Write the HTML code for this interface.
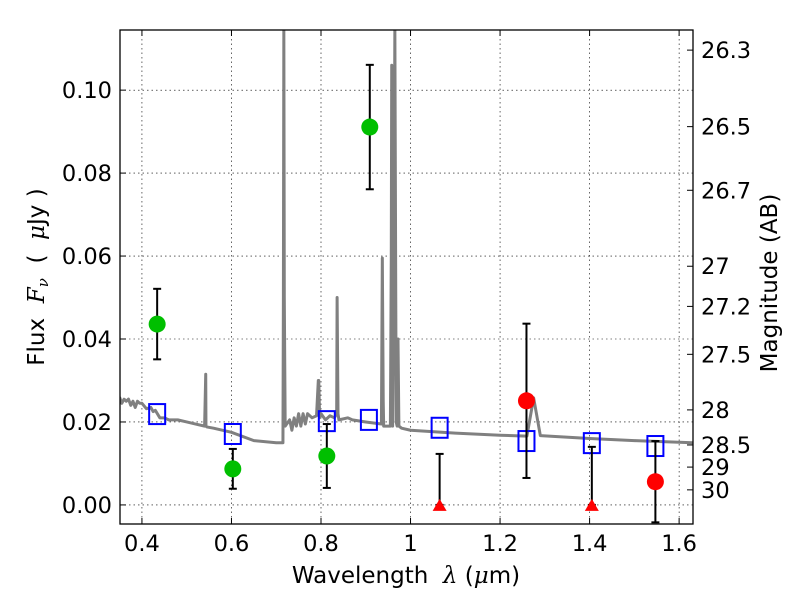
<!DOCTYPE html>
<html><head><meta charset="utf-8"><style>
body{margin:0;background:#fff}
svg{display:block;font-family:"DejaVu Sans","Liberation Sans",sans-serif}
</style></head><body>
<svg id="chart" width="800" height="600" viewBox="0 0 800 600" xmlns="http://www.w3.org/2000/svg">
<g id="grid"></g>
<g id="spec"></g>
<g id="marks"></g>
<rect x="120" y="30" width="573" height="494" fill="none" stroke="#000" stroke-width="1.3"/>
<g id="axes" font-size="22.5"></g>
<text x="406" y="583" font-size="23" text-anchor="middle" xml:space="preserve">Wavelength  <tspan font-style="italic" font-family="DejaVu Serif,serif">λ</tspan> (<tspan font-style="italic" font-family="DejaVu Serif,serif">μ</tspan>m)</text>
<text transform="translate(44,277) rotate(-90)" font-size="23" text-anchor="middle" xml:space="preserve">Flux  <tspan font-style="italic" font-family="DejaVu Serif,serif">F</tspan><tspan font-style="italic" font-family="DejaVu Serif,serif" font-size="15" dy="4">ν</tspan><tspan dy="-4">  (  </tspan><tspan font-style="italic" font-family="DejaVu Serif,serif">μ</tspan>Jy )</text>
<text transform="translate(777,283) rotate(-90)" font-size="23" text-anchor="middle">Magnitude (AB)</text>
</svg>
<script>
const xTicks=[0.4,0.6,0.8,1.0,1.2,1.4,1.6];
const xTickLabels=["0.4","0.6","0.8","1","1.2","1.4","1.6"];
const yTicks=[0,0.02,0.04,0.06,0.08,0.10];
const yTickLabels=["0.00","0.02","0.04","0.06","0.08","0.10"];
const magTicks=[26.3,26.5,26.7,27,27.2,27.5,28,28.5,29,30];
const specWave=[0.35,0.355,0.36,0.365,0.37,0.375,0.38,0.385,0.39,0.395,0.40,0.41,0.42,0.425,0.43,0.44,0.45,0.46,0.48,0.5,0.52,0.54,0.5425,0.543,0.545,0.56,0.6,0.65,0.70,0.715,0.716,0.717,0.718,0.72,0.73,0.735,0.74,0.745,0.75,0.755,0.76,0.765,0.77,0.78,0.79,0.794,0.795,0.797,0.80,0.81,0.82,0.83,0.835,0.836,0.838,0.84,0.86,0.87,0.9,0.935,0.936,0.937,0.939,0.94,0.955,0.957,0.958,0.959,0.96,0.963,0.965,0.967,0.968,0.970,0.972,0.974,0.98,1.0,1.1,1.2,1.26,1.275,1.29,1.4,1.5,1.63];
const specFlux=[0.026,0.0245,0.0255,0.025,0.0255,0.024,0.025,0.0235,0.025,0.0245,0.0245,0.0232,0.0235,0.0225,0.0228,0.021,0.021,0.0205,0.0205,0.020,0.0195,0.019,0.0315,0.019,0.0188,0.0185,0.0175,0.0155,0.015,0.015,0.05,0.115,0.05,0.019,0.0205,0.018,0.021,0.019,0.022,0.019,0.022,0.0195,0.022,0.021,0.0215,0.03,0.03,0.021,0.022,0.0205,0.0215,0.021,0.022,0.050,0.022,0.0205,0.021,0.0205,0.020,0.0195,0.04,0.0595,0.025,0.019,0.019,0.06,0.106,0.04,0.019,0.06,0.115,0.05,0.02,0.019,0.04,0.019,0.0185,0.018,0.0173,0.0168,0.0166,0.0258,0.0167,0.016,0.0155,0.015];
const detWave=[0.434,0.603,0.813,0.909];
const detFlux=[0.0436,0.0087,0.0118,0.0911];
const detErr=[0.0085,0.0048,0.0077,0.0150];
const redWave=[1.259,1.547];
const redFlux=[0.0251,0.0056];
const redErr=[0.0186,0.0098];
const limWave=[1.065,1.405];
const limFlux=[0,0];
const limErr=[0.0123,0.0140];
const modWave=[0.434,0.603,0.813,0.907,1.065,1.259,1.405,1.547];
const modFlux=[0.0219,0.0171,0.0202,0.0205,0.0186,0.0154,0.0149,0.0142];

const X0=120,X1=693,Y0=524,Y1=30,xmin=0.351,xmax=1.631,ymin=-0.0046,ymax=0.1145;
const sx=v=>X0+(v-xmin)/(xmax-xmin)*(X1-X0);
const sy=v=>Y0-(v-ymin)/(ymax-ymin)*(Y0-Y1);
const NS="http://www.w3.org/2000/svg";
function mk(tag,at,parent){const e=document.createElementNS(NS,tag);for(const k in at)e.setAttribute(k,at[k]);parent.appendChild(e);return e;}
const grid=document.getElementById('grid'),axes=document.getElementById('axes'),spec=document.getElementById('spec'),marks=document.getElementById('marks');
xTicks.forEach((t,i)=>{const x=sx(t);
 let g=mk('line',{x1:x,x2:x,y1:Y1,y2:Y0,stroke:'#000','stroke-width':0.6,'stroke-dasharray':'1.5,3'},grid);
 
 mk('line',{x1:x,x2:x,y1:Y0,y2:Y0-6,stroke:'#000'},axes);mk('line',{x1:x,x2:x,y1:Y1,y2:Y1+6,stroke:'#000'},axes);
 let l=mk('text',{x:x,y:Y0+27,'text-anchor':'middle'},axes);l.textContent=xTickLabels[i];
 });
yTicks.forEach((t,i)=>{const y=sy(t);
 let g=mk('line',{x1:X0,x2:X1,y1:y,y2:y,stroke:'#000','stroke-width':0.6,'stroke-dasharray':'1.5,3'},grid);
 
 mk('line',{x1:X0,x2:X0+6,y1:y,y2:y,stroke:'#000'},axes);
 let l=mk('text',{x:X0-8,y:y+8,'text-anchor':'end'},axes);l.textContent=yTickLabels[i];
 });
magTicks.forEach(m=>{const y=sy(Math.pow(10,(23.9-m)/2.5));
 mk('line',{x1:X1,x2:X1-6,y1:y,y2:y,stroke:'#000'},axes);
 let l=mk('text',{x:X1+8,y:y+8},axes);l.textContent=String(m);
 });
const cp=mk('clipPath',{id:'pc'},document.getElementById('chart'));mk('rect',{x:X0,y:Y1,width:X1-X0,height:Y0-Y1},cp);
let pl=mk('polyline',{points:specWave.map((w,i)=>sx(w)+','+sy(specFlux[i])).join(' '),fill:'none',stroke:'#808080','stroke-width':3,'stroke-linejoin':'round','clip-path':'url(#pc)'},spec);

function err(x,y1,y2){mk('line',{x1:x,x2:x,y1:y1,y2:y2,stroke:'#000','stroke-width':2},marks);
 mk('line',{x1:x-4,x2:x+4,y1:y1,y2:y1,stroke:'#000','stroke-width':2},marks);mk('line',{x1:x-4,x2:x+4,y1:y2,y2:y2,stroke:'#000','stroke-width':2},marks);}
modWave.forEach((w,i)=>{let r=mk('rect',{x:sx(w)-8,y:sy(modFlux[i])-10,width:16,height:20,fill:'none',stroke:'#0000ff','stroke-width':2},marks);
 });
detWave.forEach((w,i)=>{const x=sx(w);err(x,sy(detFlux[i]+detErr[i]),sy(detFlux[i]-detErr[i]));
 let c=mk('ellipse',{cx:x,cy:sy(detFlux[i]),rx:8.5,ry:8.5,fill:'#00bf00'},marks);
 });
redWave.forEach((w,i)=>{const x=sx(w);err(x,sy(redFlux[i]+redErr[i]),sy(redFlux[i]-redErr[i]));
 let c=mk('ellipse',{cx:x,cy:sy(redFlux[i]),rx:8.5,ry:8.5,fill:'#ff0000'},marks);
 });
limWave.forEach((w,i)=>{const x=sx(w),y=sy(limFlux[i]);err(x,sy(limFlux[i]+limErr[i]),y);
 let t=mk('polygon',{points:`${x},${y-6} ${x-7},${y+6} ${x+7},${y+6}`,fill:'#ff0000'},marks);
 });
</script>
</body></html>
